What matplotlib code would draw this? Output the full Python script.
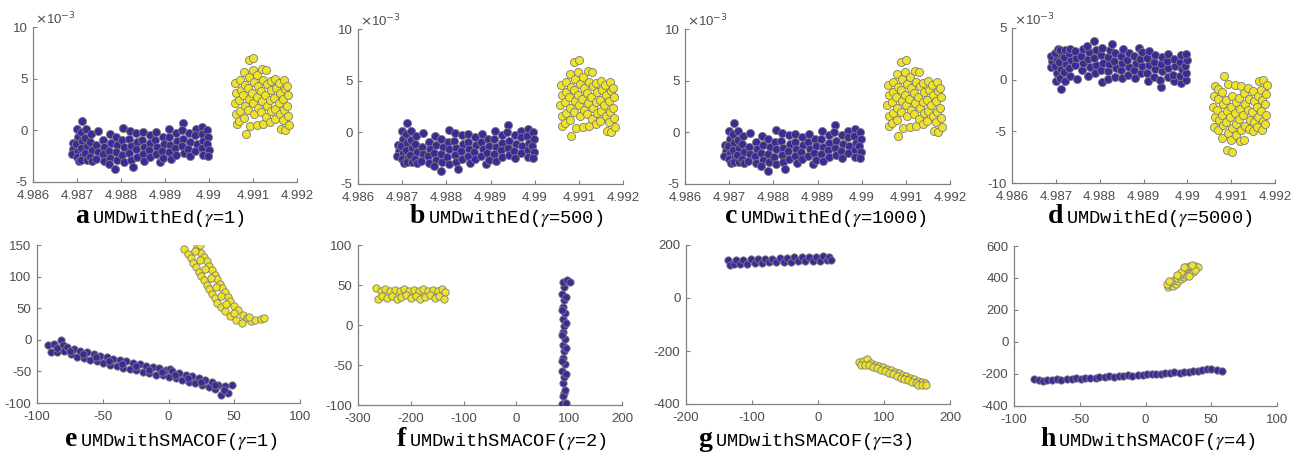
import matplotlib
matplotlib.use("Agg")
import matplotlib.pyplot as plt
from matplotlib.ticker import FuncFormatter

W, H = 1305, 457

# -----------------------------
# data (top row y values are in units of 1e-3)
# -----------------------------
ed_purple = [
    (4.98690, -1.2), (4.98692, -1.8), (4.98688, -2.3),
    (4.98700, 0.1), (4.98702, -0.6), (4.98698, -1.3), (4.98703, -2.0), (4.98699, -2.6), (4.98704, -3.0),
    (4.98711, 0.9), (4.98709, -0.2), (4.98712, -1.0), (4.98708, -1.7), (4.98713, -2.4), (4.98710, -2.9),
    (4.98721, 0.1), (4.98719, -0.7), (4.98723, -1.5), (4.98718, -2.2), (4.98722, -2.9),
    (4.98732, -0.4), (4.98729, -1.1), (4.98734, -1.9), (4.98730, -2.6), (4.98733, -3.0),
    (4.98748, -0.1), (4.98744, -1.4), (4.98747, -2.1), (4.98743, -2.8),
    (4.98760, -0.9), (4.98762, -1.6), (4.98758, -2.3), (4.98761, -3.0),
    (4.98774, -0.4), (4.98777, -1.2), (4.98773, -2.0), (4.98776, -2.7), (4.98772, -3.3),
    (4.98789, -0.6), (4.98792, -1.4), (4.98788, -2.1), (4.98791, -2.9), (4.98787, -3.7),
    (4.98805, 0.2), (4.98803, -0.9), (4.98807, -1.6), (4.98802, -2.4), (4.98806, -3.1),
    (4.98820, -0.1), (4.98818, -0.8), (4.98822, -1.5), (4.98819, -2.2), (4.98823, -2.9), (4.98827, -3.5),
    (4.98835, -0.3), (4.98837, -1.1), (4.98833, -1.8), (4.98836, -2.6),
    (4.98850, -0.2), (4.98848, -0.9), (4.98852, -1.6), (4.98849, -2.3), (4.98853, -3.0),
    (4.98865, -0.5), (4.98867, -1.2), (4.98863, -1.9), (4.98866, -2.6),
    (4.98880, -0.2), (4.98878, -0.9), (4.98882, -1.6), (4.98879, -2.3), (4.98889, -3.1),
    (4.98895, -0.6), (4.98897, -1.3), (4.98893, -2.0), (4.98896, -2.7),
    (4.98910, 0.1), (4.98908, -0.6), (4.98912, -1.4), (4.98909, -2.1), (4.98913, -2.8),
    (4.98925, -0.3), (4.98927, -1.0), (4.98923, -1.7), (4.98926, -2.4),
    (4.98940, 0.7), (4.98938, 0.0), (4.98942, -0.8), (4.98939, -1.5), (4.98943, -2.2),
    (4.98955, -0.3), (4.98957, -1.1), (4.98953, -1.8), (4.98956, -2.5),
    (4.98970, 0.1), (4.98968, -0.5), (4.98972, -1.3), (4.98969, -2.0),
    (4.98985, 0.3), (4.98983, -0.4), (4.98987, -1.0), (4.98984, -1.7), (4.98986, -2.4),
    (4.98996, 0.0), (4.98998, -0.6), (4.98995, -1.3), (4.98999, -1.9), (4.98997, -2.5),
]
ed_yellow = [
    (4.99060, 4.6), (4.99062, 3.6), (4.99058, 2.6), (4.99061, 1.6), (4.99063, 0.6),
    (4.99070, 4.9), (4.99072, 3.9), (4.99068, 2.9), (4.99071, 1.9), (4.99069, 0.9),
    (4.99080, 5.6), (4.99082, 4.4), (4.99078, 3.4), (4.99081, 2.4), (4.99079, 1.2), (4.99083, -0.4),
    (4.99090, 6.8), (4.99092, 5.2), (4.99088, 4.1), (4.99091, 3.0), (4.99089, 2.0), (4.99093, 0.4),
    (4.99101, 7.0), (4.99099, 5.8), (4.99102, 4.7), (4.99098, 3.6), (4.99100, 2.6), (4.99103, 1.6),
    (4.99110, 5.4), (4.99112, 4.3), (4.99108, 3.2), (4.99111, 2.2), (4.99109, 0.5),
    (4.99120, 5.9), (4.99122, 4.9), (4.99118, 3.8), (4.99121, 2.8), (4.99119, 1.8), (4.99123, 0.6),
    (4.99130, 5.8), (4.99132, 4.5), (4.99128, 3.4), (4.99131, 2.4), (4.99129, 1.3),
    (4.99140, 4.8), (4.99142, 3.9), (4.99138, 2.9), (4.99141, 1.9), (4.99139, 0.8),
    (4.99150, 5.0), (4.99152, 4.1), (4.99148, 3.1), (4.99151, 2.1), (4.99149, 1.1),
    (4.99160, 4.6), (4.99162, 3.6), (4.99158, 2.6), (4.99161, 1.6), (4.99163, 0.1),
    (4.99170, 4.9), (4.99172, 4.0), (4.99168, 3.0), (4.99171, 2.0), (4.99169, 1.0), (4.99173, 0.0),
    (4.99178, 4.3), (4.99180, 3.4), (4.99177, 2.4), (4.99179, 1.4), (4.99181, 0.5),
]
# panel d looks like panel a flipped upside down
d_purple = [
    (4.98690, 1.2), (4.98692, 1.8), (4.98688, 2.3),
    (4.98700, -0.1), (4.98702, 0.6), (4.98698, 1.3), (4.98703, 2.0), (4.98699, 2.6), (4.98704, 3.0),
    (4.98711, -0.9), (4.98709, 0.2), (4.98712, 1.0), (4.98708, 1.7), (4.98713, 2.4), (4.98710, 2.9),
    (4.98721, -0.1), (4.98719, 0.7), (4.98723, 1.5), (4.98718, 2.2), (4.98722, 2.9),
    (4.98732, 0.4), (4.98729, 1.1), (4.98734, 1.9), (4.98730, 2.6), (4.98733, 3.0),
    (4.98748, 0.1), (4.98744, 1.4), (4.98747, 2.1), (4.98743, 2.8),
    (4.98760, 0.9), (4.98762, 1.6), (4.98758, 2.3), (4.98761, 3.0),
    (4.98774, 0.4), (4.98777, 1.2), (4.98773, 2.0), (4.98776, 2.7), (4.98772, 3.3),
    (4.98789, 0.6), (4.98792, 1.4), (4.98788, 2.1), (4.98791, 2.9), (4.98787, 3.7),
    (4.98805, -0.2), (4.98803, 0.9), (4.98807, 1.6), (4.98802, 2.4), (4.98806, 3.1),
    (4.98820, 0.1), (4.98818, 0.8), (4.98822, 1.5), (4.98819, 2.2), (4.98823, 2.9), (4.98827, 3.5),
    (4.98835, 0.3), (4.98837, 1.1), (4.98833, 1.8), (4.98836, 2.6),
    (4.98850, 0.2), (4.98848, 0.9), (4.98852, 1.6), (4.98849, 2.3), (4.98853, 3.0),
    (4.98865, 0.5), (4.98867, 1.2), (4.98863, 1.9), (4.98866, 2.6),
    (4.98880, 0.2), (4.98878, 0.9), (4.98882, 1.6), (4.98879, 2.3), (4.98889, 3.1),
    (4.98895, 0.6), (4.98897, 1.3), (4.98893, 2.0), (4.98896, 2.7),
    (4.98910, -0.1), (4.98908, 0.6), (4.98912, 1.4), (4.98909, 2.1), (4.98913, 2.8),
    (4.98925, 0.3), (4.98927, 1.0), (4.98923, 1.7), (4.98926, 2.4),
    (4.98940, -0.7), (4.98938, 0.0), (4.98942, 0.8), (4.98939, 1.5), (4.98943, 2.2),
    (4.98955, 0.3), (4.98957, 1.1), (4.98953, 1.8), (4.98956, 2.5),
    (4.98970, -0.1), (4.98968, 0.5), (4.98972, 1.3), (4.98969, 2.0),
    (4.98985, -0.3), (4.98983, 0.4), (4.98987, 1.0), (4.98984, 1.7), (4.98986, 2.4),
    (4.98996, 0.0), (4.98998, 0.6), (4.98995, 1.3), (4.98999, 1.9), (4.98997, 2.5),
]
d_yellow = [
    (4.99060, -4.6), (4.99062, -3.6), (4.99058, -2.6), (4.99061, -1.6), (4.99063, -0.6),
    (4.99070, -4.9), (4.99072, -3.9), (4.99068, -2.9), (4.99071, -1.9), (4.99069, -0.9),
    (4.99080, -5.6), (4.99082, -4.4), (4.99078, -3.4), (4.99081, -2.4), (4.99079, -1.2), (4.99083, 0.4),
    (4.99090, -6.8), (4.99092, -5.2), (4.99088, -4.1), (4.99091, -3.0), (4.99089, -2.0), (4.99093, -0.4),
    (4.99101, -7.0), (4.99099, -5.8), (4.99102, -4.7), (4.99098, -3.6), (4.99100, -2.6), (4.99103, -1.6),
    (4.99110, -5.4), (4.99112, -4.3), (4.99108, -3.2), (4.99111, -2.2), (4.99109, -0.5),
    (4.99120, -5.9), (4.99122, -4.9), (4.99118, -3.8), (4.99121, -2.8), (4.99119, -1.8), (4.99123, -0.6),
    (4.99130, -5.8), (4.99132, -4.5), (4.99128, -3.4), (4.99131, -2.4), (4.99129, -1.3),
    (4.99140, -4.8), (4.99142, -3.9), (4.99138, -2.9), (4.99141, -1.9), (4.99139, -0.8),
    (4.99150, -5.0), (4.99152, -4.1), (4.99148, -3.1), (4.99151, -2.1), (4.99149, -1.1),
    (4.99160, -4.6), (4.99162, -3.6), (4.99158, -2.6), (4.99161, -1.6), (4.99163, -0.1),
    (4.99170, -4.9), (4.99172, -4.0), (4.99168, -3.0), (4.99171, -2.0), (4.99169, -1.0), (4.99173, 0.0),
    (4.99178, -4.3), (4.99180, -3.4), (4.99177, -2.4), (4.99179, -1.4), (4.99181, -0.5),
]

e_purple = [
    (-92, -8), (-89.5, -20), (-87, -7), (-84.5, -19), (-82, 0), (-80, -8), (-79.5, -18),
    (-77, -11), (-74.5, -23), (-72, -15), (-69.5, -27), (-67, -17), (-64.5, -29),
    (-62, -20), (-59.5, -32), (-57, -22), (-54.5, -34), (-52, -25), (-49.5, -37),
    (-47, -28), (-44.5, -40), (-42, -30), (-39.5, -42), (-37, -32), (-34.5, -44),
    (-32, -34), (-29.5, -46), (-27, -36), (-24.5, -48), (-22, -39), (-19.5, -51),
    (-17, -41), (-14.5, -53), (-12, -43), (-9.5, -55), (-7, -44), (-4.5, -56),
    (-2, -47), (0.5, -59), (1, -46), (3, -49), (5.5, -61), (8, -52), (10.5, -64),
    (13, -55), (15.5, -67), (18, -57), (20.5, -69), (23, -60), (25.5, -72),
    (28, -63), (30.5, -75), (33, -66), (35.5, -78), (38, -72), (40, -87),
    (43, -73), (45.5, -84), (48, -71),
    (-85, -13), (-75, -17), (-65, -22), (-55, -28), (-45, -33), (-35, -38), (-25, -42),
    (-15, -47), (-5, -51), (5, -55), (15, -61), (25, -66), (35, -72), (42, -79),
]
e_yellow = [
    (12, 143), (22, 147), (24, 150), (15, 136), (25, 138), (17, 129), (27, 131),
    (19, 122), (29, 124), (21, 115), (31, 117), (23, 108), (33, 110), (25, 101),
    (35, 103), (27, 94), (37, 96), (29, 87), (39, 89), (31, 80), (41, 82),
    (33, 73), (43, 75), (35, 66), (45, 68), (37, 59), (47, 61), (40, 52), (50, 54),
    (43, 45), (53, 47), (47, 38), (57, 40), (51, 32), (60, 34), (56, 26), (63, 29),
    (66, 32), (70, 33), (73, 35), (61, 36),
    (20, 140), (24, 126), (28, 112), (32, 98), (36, 84), (40, 70), (44, 56), (50, 42),
]
f_yellow = [
    (-265, 46), (-257, 43), (-248, 45), (-239, 42), (-230, 44), (-221, 43), (-212, 45), (-203, 42),
    (-194, 44), (-185, 43), (-176, 45), (-167, 42), (-158, 44), (-149, 43), (-140, 45), (-135, 41),
    (-263, 33), (-254, 36), (-245, 34), (-236, 36), (-227, 33), (-218, 35), (-209, 37), (-200, 34),
    (-191, 36), (-182, 33), (-173, 35), (-164, 37), (-155, 34), (-146, 36), (-137, 33),
]
f_purple = [
    (90, -97), (86, -99), (94, -98), (91, -85), (88, -89), (92, -81), (89, -73), (91, -65),
    (87, -57), (92, -49), (89, -41), (90, -33), (88, -25), (92, -17), (89, -9), (91, -1),
    (88, 7), (92, 15), (89, 23), (90, 31), (87, 39), (91, 47), (88, 54), (95, 56), (101, 54),
    (94, -61), (86, -45), (94, -29), (86, -13), (94, 3), (86, 19), (94, 35),
]
g_purple = [
    (-137, 144), (-134, 126), (-128, 128), (-124, 143), (-118, 128), (-113, 144), (-107, 130),
    (-102, 146), (-96, 131), (-91, 147), (-85, 132), (-80, 148), (-74, 134), (-69, 149),
    (-63, 135), (-58, 150), (-52, 136), (-47, 152), (-41, 137), (-36, 153), (-30, 138),
    (-25, 154), (-19, 139), (-14, 155), (-8, 140), (-3, 156), (3, 141), (8, 157),
    (13, 143), (17, 153), (19, 145),
]
g_yellow = [
    (62, -240), (68, -238), (74, -232), (80, -246), (86, -252), (92, -256), (98, -262),
    (104, -267), (110, -273), (116, -278), (122, -284), (128, -290), (134, -295), (140, -300),
    (146, -306), (152, -312), (158, -316), (162, -320),
    (65, -252), (71, -254), (77, -252), (83, -260), (89, -266), (95, -272), (101, -277),
    (107, -283), (113, -288), (119, -294), (125, -300), (131, -305), (137, -311), (143, -317),
    (149, -322), (152, -330), (158, -328), (163, -328),
]
h_purple = [
    (-85, -232), (-81, -238), (-78, -244), (-75, -236), (-71, -239), (-67, -233), (-64, -236),
    (-60, -230), (-56, -233), (-53, -227), (-49, -229), (-46, -224), (-42, -222), (-38, -225),
    (-35, -218), (-31, -221), (-28, -214), (-24, -216), (-20, -212), (-17, -214), (-13, -208),
    (-10, -210), (-6, -205), (-2, -207), (1, -200), (5, -203), (8, -197), (12, -199), (15, -193),
    (19, -195), (22, -190), (26, -192), (29, -186), (33, -188), (36, -182), (40, -184),
    (43, -176), (47, -166), (50, -170), (54, -175), (58, -182),
]
h_yellow = [
    (17, 345), (19, 358), (21, 350), (20, 372), (23, 365), (22, 385), (25, 380), (24, 398),
    (27, 392), (26, 410), (29, 405), (28, 425), (31, 418), (30, 440), (33, 432), (32, 455),
    (35, 448), (31, 470), (34, 472), (37, 465), (38, 478), (36, 440), (27, 440), (24, 420),
    (16, 365), (18, 382), (40, 468), (38, 452), (35, 480), (33, 415), (29, 470),
]

letters = ["a", "b", "c", "d", "e", "f", "g", "h"]
labels = [
    r"UMDwithEd($\gamma$=1)", r"UMDwithEd($\gamma$=500)", r"UMDwithEd($\gamma$=1000)",
    r"UMDwithEd($\gamma$=5000)", r"UMDwithSMACOF($\gamma$=1)", r"UMDwithSMACOF($\gamma$=2)",
    r"UMDwithSMACOF($\gamma$=3)", r"UMDwithSMACOF($\gamma$=4)",
]

ed_xticks = [4.986, 4.987, 4.988, 4.989, 4.990, 4.991, 4.992]
panels = [
    # purple, yellow, xlim, xticks, ylim, yticks
    (ed_purple, ed_yellow, (4.986, 4.992), ed_xticks, (-5, 10), [-5, 0, 5, 10]),
    (ed_purple, ed_yellow, (4.986, 4.992), ed_xticks, (-5, 10), [-5, 0, 5, 10]),
    (ed_purple, ed_yellow, (4.986, 4.992), ed_xticks, (-5, 10), [-5, 0, 5, 10]),
    (d_purple, d_yellow, (4.986, 4.992), ed_xticks, (-10, 5), [-10, -5, 0, 5]),
    (e_purple, e_yellow, (-100, 100), [-100, -50, 0, 50, 100], (-100, 150), [-100, -50, 0, 50, 100, 150]),
    (f_purple, f_yellow, (-300, 200), [-300, -200, -100, 0, 100, 200], (-100, 100), [-100, -50, 0, 50, 100]),
    (g_purple, g_yellow, (-200, 200), [-200, -100, 0, 100, 200], (-400, 200), [-400, -200, 0, 200]),
    (h_purple, h_yellow, (-100, 100), [-100, -50, 0, 50, 100], (-400, 600), [-400, -200, 0, 200, 400, 600]),
]

# axes boxes in pixels: left, top, right, bottom
boxes = [
    (33, 27, 297, 182), (358, 29, 623, 184), (685, 29, 950, 184), (1012, 28, 1275, 183),
    (37, 245, 300, 403), (358, 245, 622, 405), (686, 245, 950, 404), (1014, 246, 1277, 406),
]
title_x = [75, 410, 725, 1048, 65, 397, 698, 1040]
title_base = [223, 223, 223, 223, 446, 446, 446, 446]

PURPLE = "#3E2A96"
YELLOW = "#EEE22B"
EDGE = "#7C7C7C"
AXIS = "#808080"
TICK = "#4D4D4D"

plt.rcParams["font.family"] = ["Liberation Sans", "DejaVu Sans"]

fig = plt.figure(figsize=(W / 100, H / 100), dpi=100)

for i, (purple, yellow, xlim, xticks, ylim, yticks) in enumerate(panels):
    l, t, r, b = boxes[i]
    ax = fig.add_axes([l / W, 1 - b / H, (r - l) / W, (b - t) / H])
    s = 34 if i < 4 else 28
    for pts, col in [(purple, PURPLE), (yellow, YELLOW)]:
        xs = [p[0] for p in pts]
        ys = [p[1] for p in pts]
        ax.scatter(xs, ys, s=s, c=col, edgecolors=EDGE, linewidths=0.6, zorder=3)
    ax.set_xlim(*xlim)
    ax.set_ylim(*ylim)
    ax.set_xticks(xticks)
    ax.set_yticks(yticks)
    ax.xaxis.set_major_formatter(FuncFormatter(lambda v, _: f"{v:g}"))
    ax.yaxis.set_major_formatter(FuncFormatter(lambda v, _: f"{v:g}"))
    for side in ["top", "right"]:
        ax.spines[side].set_visible(False)
    for side in ["left", "bottom"]:
        ax.spines[side].set_color(AXIS)
        ax.spines[side].set_linewidth(0.9)
    ax.tick_params(direction="in", length=3, width=0.8, color=AXIS,
                   labelcolor=TICK, labelsize=9.5)
    ax.tick_params(axis="x", pad=6)
    ax.tick_params(axis="y", pad=4)
    if i < 4:
        ax.text(0.008, 1.0, r"$\times$10$^{-3}$", transform=ax.transAxes,
                ha="left", va="bottom", fontsize=9.5, color=TICK)

# panel captions: bold serif letter followed by a typewriter label
renderer = fig.canvas.get_renderer()
for i in range(8):
    yb = 1 - title_base[i] / H
    t1 = fig.text(title_x[i] / W, yb, letters[i], fontfamily="Liberation Serif",
                  fontweight="bold", fontsize=20, va="baseline", ha="left")
    bb = t1.get_window_extent(renderer)
    fig.text((bb.x1 + 3) / W, yb, labels[i], fontfamily="Liberation Mono",
             fontsize=13.5, va="baseline", ha="left", math_fontfamily="stix")

fig.savefig("out.png", dpi=100)
plt.close(fig)
